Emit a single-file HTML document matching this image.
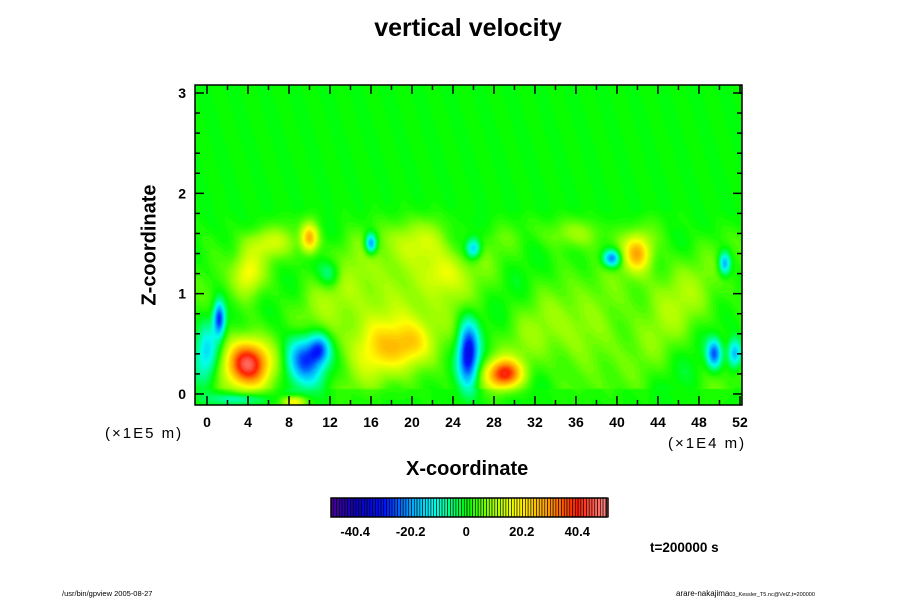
<!DOCTYPE html>
<html><head><meta charset="utf-8"><style>
body{margin:0;background:#fff;font-family:"Liberation Sans",sans-serif}
#w{position:relative;width:900px;height:600px;overflow:hidden}
.t{position:absolute;white-space:nowrap}
.b{font-weight:bold}
</style></head><body>
<div id="w">
<div class="t b" style="left:0;width:936px;text-align:center;top:14px;font-size:25px">vertical velocity</div>
<canvas id="cv" width="547" height="320" style="position:absolute;left:195px;top:85px"></canvas>
<svg id="ax" width="900" height="600" style="position:absolute;left:0;top:0"></svg>
<div class="t b" style="left:150px;top:245px;font-size:20px;transform:translate(-50%,-50%) rotate(-90deg)">Z-coordinate</div>
<div class="t b" style="left:406px;top:458px;font-size:20px">X-coordinate</div>
<div class="t" style="left:105px;top:425px;font-size:15px;letter-spacing:2px">(×1E5 m)</div>
<div class="t" style="left:668px;top:435px;font-size:15px;letter-spacing:2px">(×1E4 m)</div>
<div class="t b" style="left:650px;top:540px;font-size:13.5px">t=200000 s</div>
<div class="t" style="left:62px;top:589px;font-size:7.5px">/usr/bin/gpview 2005-08-27</div>
<div class="t" style="left:676px;top:589px;font-size:8px">arare-nakajima<span style="font-size:5.5px">03_Kessler_T5.nc@VelZ,t=200000</span></div>
</div>
<script>
const xTicks=[0,4,8,12,16,20,24,28,32,36,40,44,48,52];
const zTicks=[0,1,2,3];
const cbLabels=[-40.4,-20.2,0,20.2,40.4];
// blobs: x (1E4 m), z (1E5 m), amplitude, widths
const blobX=[4,9.5,17,20,25.5,29,49.5,51.5,0,10,1.2,16,42,39.5,50.5,26,4,23,3,8.5,17,36,45,6,36,12,11,21];
const blobZ=[0.3,0.35,0.45,0.5,0.4,0.2,0.4,0.4,0.4,1.55,0.75,1.5,1.4,1.35,1.3,1.45,1.2,1.2,-0.05,-0.08,0.9,0.6,1.0,1.5,1.6,1.2,0.45,1.5];
const blobA=[44,-30,14,12,-36,36,-26,-22,-16,26,-30,-26,22,-26,-22,-20,15,12,-12,20,9,7,7,10,8,-12,-20,10];
const blobWX=[1.5,1.3,2.2,1.4,0.7,1.2,0.5,0.5,0.8,0.6,0.4,0.4,0.9,0.6,0.4,0.5,1,1.5,2,0.8,5,4,3,1.5,2,0.8,0.7,2];
const blobWZ=[0.16,0.17,0.2,0.15,0.22,0.1,0.1,0.1,0.2,0.1,0.12,0.07,0.12,0.06,0.08,0.07,0.15,0.15,0.04,0.04,0.4,0.3,0.3,0.1,0.1,0.1,0.1,0.15];
const xMin=-1.17,xMax=52.2,zMin=-0.11,zMax=3.08;
const L=195,T=85,W=547,H=320;
const sx=v=>L+(v-xMin)/(xMax-xMin)*W, sz=v=>T+H-(v-zMin)/(zMax-zMin)*H;
const stops=[[-50,[80,0,150]],[-40,[10,0,190]],[-30,[0,20,255]],[-20,[0,170,255]],[-12,[0,255,240]],[-5,[0,255,110]],[0,[0,255,0]],[8,[140,255,0]],[18,[255,255,0]],[30,[255,150,0]],[40,[255,30,0]],[51,[255,140,140]]];
function col(v){v=Math.max(-50,Math.min(51,v));v=Math.floor(v/1.01)*1.01+0.5;
 for(let i=0;i<stops.length-1;i++){const a=stops[i],b=stops[i+1];if(v<=b[0]){const t=(v-a[0])/(b[0]-a[0]);return a[1].map((c,k)=>Math.round(c+(b[1][k]-c)*t));}}return stops[stops.length-1][1];}
const cv=document.getElementById('cv'),cx=cv.getContext('2d'),img=cx.createImageData(W,H);
for(let j=0;j<H;j++){const z=zMax-(j+0.5)/H*(zMax-zMin);for(let i=0;i<W;i++){const x=xMin+(i+0.5)/W*(xMax-xMin);
 let v=0;for(let k=0;k<blobX.length;k++){const dx=(x-blobX[k])/blobWX[k],dz=(z-blobZ[k])/blobWZ[k];const e=dx*dx+dz*dz;if(e<12)v+=blobA[k]*Math.exp(-e/2);}
 const w=Math.max(0,Math.min(1,(1.85-z)/0.3))*(z>0.05?1:0.3);
 v+=w*(2.5*Math.sin(x*1.3+z*3)*Math.sin(z*7.3+x*0.4)+2*Math.sin(x*0.53-z*5)+2);
 v+=(1-w)*0.6*Math.sin(x*2.1+z*6);
 const c=col(v),p=(j*W+i)*4;img.data[p]=c[0];img.data[p+1]=c[1];img.data[p+2]=c[2];img.data[p+3]=255;}}
cx.putImageData(img,0,0);
const ns='http://www.w3.org/2000/svg',svg=document.getElementById('ax');
function mk(t,a){const e=document.createElementNS(ns,t);for(const k in a)e.setAttribute(k,a[k]);svg.appendChild(e);return e;}
const fr=mk('rect',{x:L,y:T,width:W,height:H,fill:'none',stroke:'#000','stroke-width':1.5});


for(let v=0;v<=52;v+=2){const len=v%4===0?9:5;const X=sx(v);
 mk('line',{x1:X,x2:X,y1:T+H,y2:T+H-len,stroke:'#000','stroke-width':1.5});mk('line',{x1:X,x2:X,y1:T,y2:T+len,stroke:'#000','stroke-width':1.5});}
for(let i=0;i<=15;i++){const v=i*0.2;const len=i%5===0?9:5;const Y=sz(v);
 mk('line',{x1:L,x2:L+len,y1:Y,y2:Y,stroke:'#000','stroke-width':1.5});mk('line',{x1:L+W,x2:L+W-len,y1:Y,y2:Y,stroke:'#000','stroke-width':1.5});}
xTicks.forEach(v=>{const t=mk('text',{x:sx(v),y:427,'text-anchor':'middle','font-size':14,'font-weight':'bold','font-family':'Liberation Sans'});t.textContent=v;
 
 });
zTicks.forEach(v=>{const t=mk('text',{x:186,y:sz(v)+5,'text-anchor':'end','font-size':14,'font-weight':'bold','font-family':'Liberation Sans'});t.textContent=v;
 
 });
// colorbar
const cbL=331,cbR=607,cbT=498,cbB=517,vMin=-49.2,vMax=51.2;
const cs=v=>cbL+(v-vMin)/(vMax-vMin)*(cbR-cbL);
for(let v=vMin;v<vMax-0.01;v+=1.01){const c=col(v+0.3);
 const r=mk('rect',{x:cs(v),y:cbT,width:cs(v+1.01)-cs(v),height:cbB-cbT,fill:`rgb(${c})`,stroke:'#000','stroke-width':0.6});
 
 }
const cbf=mk('rect',{x:cbL,y:cbT,width:cbR-cbL,height:cbB-cbT,fill:'none',stroke:'#000','stroke-width':1.5});


cbLabels.forEach(v=>{const t=mk('text',{x:cs(v),y:536,'text-anchor':'middle','font-size':13,'font-weight':'bold','font-family':'Liberation Sans'});t.textContent=v;
 
 });
</script>
</body></html>
